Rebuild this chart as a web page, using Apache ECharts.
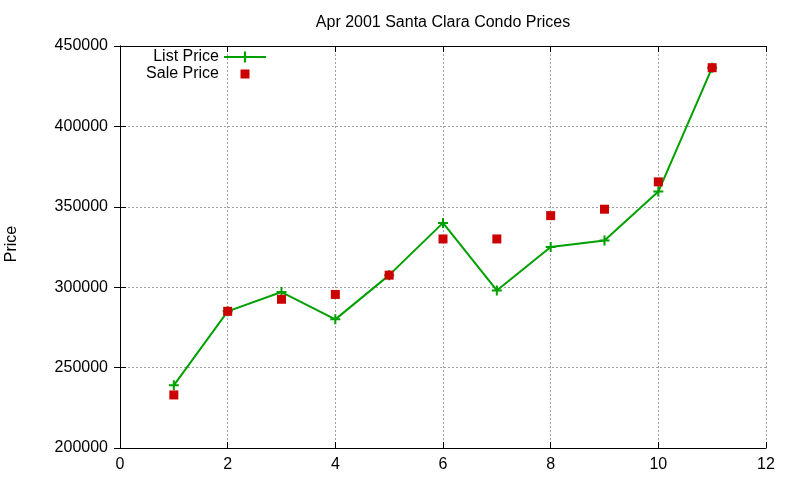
<!DOCTYPE html>
<html>
<head>
<meta charset="utf-8">
<script src="https://cdn.jsdelivr.net/npm/echarts@6/dist/echarts.min.js"></script>
<style>html,body{margin:0;padding:0;background:#fff}#c{width:800px;height:480px}</style>
</head>
<body>
<div id="c"></div>
<script>
const months = [1, 2, 3, 4, 5, 6, 7, 8, 9, 10, 11];
const listPrice = [239000, 285000, 297000, 280000, 307500, 340000, 298000, 325000, 329000, 359500, 436500];
const salePrice = [233000, 285000, 292500, 295500, 307500, 330000, 330000, 344500, 348500, 365500, 436500];
const titleText = 'Apr 2001 Santa Clara Condo Prices';
const yName = 'Price';

const FONT = '"Liberation Sans", Arial, sans-serif';
const plus = 'path://M-1,-5L1,-5L1,-1L5,-1L5,1L1,1L1,5L-1,5L-1,1L-5,1L-5,-1L-1,-1Z';
const square = 'path://M0,0L10,0L10,10L0,10Z';
const legendSquare = 'path://M0,0M42,14M16.5,2.5L25.5,2.5L25.5,11.5L16.5,11.5Z';
const GREEN = '#00a000';
const RED = '#cc0000';

const chart = echarts.init(document.getElementById('c'), null, {renderer: 'canvas'});
const gridLine = {show: true, lineStyle: {color: '#a0a0a0', type: [2, 2], width: 1}};
const axLine = {show: true, lineStyle: {color: '#000', width: 1}};
const tick = {show: true, inside: true, length: 6, lineStyle: {color: '#000'}};
chart.setOption({
  animation: false,
  backgroundColor: '#fff',
  textStyle: {fontFamily: FONT},
  title: {
    text: titleText, left: 438, top: 10, textAlign: 'center',
    textStyle: {fontFamily: FONT, fontSize: 16, fontWeight: 'normal', color: '#000'}
  },
  grid: {left: 120, right: 34, top: 46, bottom: 32, containLabel: false, outerBoundsMode: 'none'},
  legend: {
    data: ['List Price', {name: 'Sale Price', icon: legendSquare}],
    orient: 'vertical', align: 'right', right: 533, top: 49, padding: 0,
    itemWidth: 42, itemHeight: 14, itemGap: 1,
    textStyle: {fontFamily: FONT, fontSize: 16, color: '#000'}
  },
  xAxis: [
    {
      type: 'value', min: 0, max: 12, interval: 2, position: 'bottom',
      axisLine: axLine, axisTick: tick, splitLine: gridLine,
      axisLabel: {color: '#000', fontSize: 16, fontFamily: FONT, margin: 9}
    },
    {
      type: 'value', min: 0, max: 12, interval: 2, position: 'top',
      axisLine: axLine, axisTick: tick, splitLine: {show: false}, axisLabel: {show: false}
    }
  ],
  yAxis: [
    {
      type: 'value', min: 200000, max: 450000, interval: 50000, position: 'left',
      name: yName, nameLocation: 'middle', nameGap: 100, nameRotate: 90,
      nameTextStyle: {color: '#000', fontSize: 16, fontFamily: FONT, padding: [0, 0, 0, 6]},
      axisLine: axLine, axisTick: tick, splitLine: gridLine,
      axisLabel: {color: '#000', fontSize: 16, fontFamily: FONT, margin: 12, formatter: v => String(v)}
    },
    {
      type: 'value', min: 200000, max: 450000, interval: 50000, position: 'right',
      axisLine: axLine, axisTick: tick, splitLine: {show: false}, axisLabel: {show: false}
    }
  ],
  series: [
    {
      name: 'List Price', type: 'line',
      data: months.map((m, i) => [m, listPrice[i]]),
      color: GREEN,
      lineStyle: {color: GREEN, width: 2},
      itemStyle: {color: GREEN, opacity: 1},
      symbol: plus, symbolSize: 10, showAllSymbol: true,
      z: 2
    },
    {
      name: 'Sale Price', type: 'scatter',
      data: months.map((m, i) => [m, salePrice[i]]),
      color: RED,
      itemStyle: {color: RED, opacity: 1},
      symbol: square, symbolSize: 9,
      z: 3
    }
  ]
});
</script>
</body>
</html>
